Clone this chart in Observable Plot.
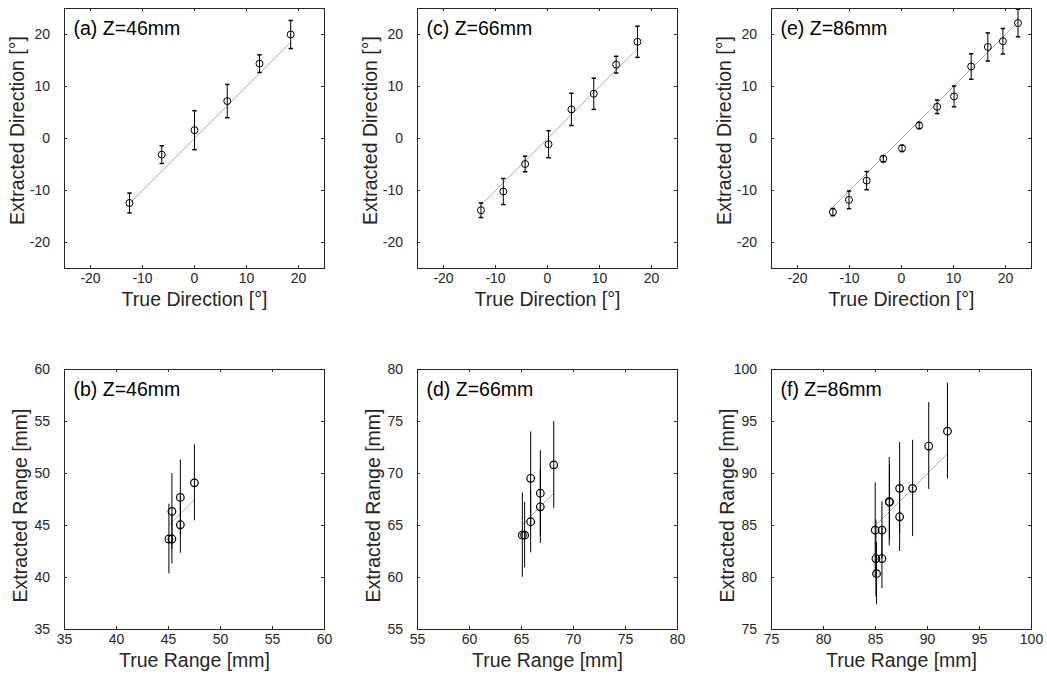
<!DOCTYPE html>
<html><head><meta charset="utf-8">
<script src="https://cdn.jsdelivr.net/npm/d3@7"></script>
<script src="https://cdn.jsdelivr.net/npm/@observablehq/plot@0.6"></script>
<style>
html,body{margin:0;padding:0;background:#fff;overflow:hidden}
#chart{position:relative;width:1047px;height:685px}
#chart svg{position:absolute}
</style></head><body><div id="chart"></div>
<script>
// ---- Data ----
// Direction panels: true direction [deg], extracted direction [deg], error bar half-length
const trueA = [-12.5, -6.3, 0, 6.3, 12.5, 18.5];
const extA  = [-12.4, -3.1, 1.6, 7.2, 14.4, 20.0];
const errA  = [1.9, 1.7, 3.75, 3.2, 1.7, 2.7];

const trueC = [-12.8, -8.5, -4.3, 0.2, 4.6, 8.9, 13.2, 17.3];
const extC  = [-13.8, -10.2, -4.9, -1.1, 5.6, 8.6, 14.2, 18.6];
const errC  = [1.4, 2.5, 1.5, 2.6, 3.1, 3.0, 1.6, 3.0];

const trueE = [-13.2, -10.1, -6.7, -3.5, 0.1, 3.4, 6.85, 10.1, 13.4, 16.6, 19.5, 22.4];
const extE  = [-14.15, -11.8, -8.1, -3.9, -1.9, 2.5, 6.1, 8.1, 13.85, 17.6, 18.7, 22.2];
const errE  = [0.7, 1.7, 1.75, 0.6, 0.6, 0.6, 1.3, 2.0, 2.45, 2.7, 2.45, 2.65];

// Range panels: true range [mm], extracted range [mm], error bar half-length
const trueB = [45.04, 45.33, 45.33, 46.14, 46.14, 47.49];
const extB  = [43.7, 43.7, 46.35, 45.07, 47.7, 49.1];
const errB  = [3.35, 2.4, 3.65, 2.74, 3.6, 3.65];

const trueD = [65.08, 65.3, 65.88, 65.88, 66.81, 66.81, 68.1];
const extD  = [64.07, 64.07, 69.54, 65.36, 68.1, 66.8, 70.83];
const errD  = [4.05, 3.15, 4.46, 3.0, 4.1, 3.54, 4.17];

const trueF = [84.97, 85.62, 85.04, 85.62, 85.1, 86.32, 86.35, 87.32, 87.32, 88.57, 90.12, 91.92];
const extF  = [84.56, 84.56, 81.82, 81.82, 80.37, 87.29, 87.25, 88.57, 85.84, 88.57, 92.64, 94.07];
const errF  = [4.54, 2.73, 3.7, 2.9, 3.0, 4.25, 3.6, 4.41, 3.34, 4.63, 4.17, 4.6];

// Axes
const dirDomain = [-25, 25];
const dirTicks = [-20, -10, 0, 10, 20];
const rangeDomainB = [35, 60], rangeTicksB = [35, 40, 45, 50, 55, 60];
const rangeDomainD = [55, 80], rangeTicksD = [55, 60, 65, 70, 75, 80];
const rangeDomainF = [75, 100], rangeTicksF = [75, 80, 85, 90, 95, 100];

const titles = ["(a) Z=46mm", "(c) Z=66mm", "(e) Z=86mm", "(b) Z=46mm", "(d) Z=66mm", "(f) Z=86mm"];
const xLabelDir = "True Direction [°]", yLabelDir = "Extracted Direction [°]";
const xLabelRange = "True Range [mm]", yLabelRange = "Extracted Range [mm]";

// ---- Layout ----
const S = 260, ML = 64, MT = 8, MR = 12, MB = 50;
const colLeft = [0, 353, 707];
const rowTop = [0, 361];
const FONT = '"Liberation Sans", Arial, Helvetica, sans-serif';
const INK = "#262626";

const capSymbol = {draw(ctx, size) { const r = Math.sqrt(size / Math.PI); ctx.moveTo(-r, 0); ctx.lineTo(r, 0); }};

const panels = [
  {t: trueA, v: extA, e: errA, dom: dirDomain, labels: dirTicks, inner: dirTicks, title: titles[0], xl: xLabelDir, yl: yLabelDir, caps: true, col: 0, row: 0},
  {t: trueC, v: extC, e: errC, dom: dirDomain, labels: dirTicks, inner: dirTicks, title: titles[1], xl: xLabelDir, yl: yLabelDir, caps: true, col: 1, row: 0},
  {t: trueE, v: extE, e: errE, dom: dirDomain, labels: dirTicks, inner: dirTicks, title: titles[2], xl: xLabelDir, yl: yLabelDir, caps: true, col: 2, row: 0},
  {t: trueB, v: extB, e: errB, dom: rangeDomainB, labels: rangeTicksB, inner: rangeTicksB.slice(1, -1), title: titles[3], xl: xLabelRange, yl: yLabelRange, caps: false, col: 0, row: 1},
  {t: trueD, v: extD, e: errD, dom: rangeDomainD, labels: rangeTicksD, inner: rangeTicksD.slice(1, -1), title: titles[4], xl: xLabelRange, yl: yLabelRange, caps: false, col: 1, row: 1},
  {t: trueF, v: extF, e: errF, dom: rangeDomainF, labels: rangeTicksF, inner: rangeTicksF.slice(1, -1), title: titles[5], xl: xLabelRange, yl: yLabelRange, caps: false, col: 2, row: 1}
];

const root = document.getElementById("chart");
for (const p of panels) {
  const data = p.t.map((t, i) => ({x: t, y: p.v[i], e: p.e[i]}));
  const fit = d3.extent(p.t).map(v => ({x: v, y: v}));
  const top = p.row === 0;
  const marks = [
    Plot.tickX(p.inner, {x: d => d, insetBottom: S - 3, stroke: INK}),
    Plot.tickX(p.inner, {x: d => d, insetTop: S - 3, stroke: INK}),
    Plot.tickY(p.inner, {y: d => d, insetRight: S - 3, stroke: INK}),
    Plot.tickY(p.inner, {y: d => d, insetLeft: S - 3, stroke: INK}),
    Plot.axisX({ticks: p.labels, tickSize: 0, tickPadding: 5, fontSize: 14, tickFormat: d => String(d), label: null}),
    Plot.axisY({ticks: p.labels, tickSize: 0, tickPadding: 14.5, fontSize: 14, tickFormat: d => String(d), label: null}),
    Plot.line(fit, {x: "x", y: "y", stroke: "#b3b3b3", strokeWidth: 1}),
    Plot.ruleX(data, {x: "x", y1: d => d.y - d.e, y2: d => d.y + d.e, stroke: "#000", strokeWidth: 1}),
    p.caps ? Plot.dot(data, {x: "x", y: d => d.y + d.e, symbol: capSymbol, r: 2.2, stroke: "#000", fill: "none"}) : null,
    p.caps ? Plot.dot(data, {x: "x", y: d => d.y - d.e, symbol: capSymbol, r: 2.2, stroke: "#000", fill: "none"}) : null,
    Plot.dot(data, {x: "x", y: "y", r: top ? 3.5 : 3.8, stroke: "#000", strokeWidth: top ? 1 : 1.2, fill: "none"}),
    Plot.frame({stroke: INK}),
    Plot.text([p.title], {text: d => d, frameAnchor: "top-left", dx: 9, dy: 12.7, lineAnchor: "top", textAnchor: "start", fontSize: 19.5, fill: "#000"}),
    Plot.text([p.xl], {text: d => d, frameAnchor: "bottom", dy: 37, lineAnchor: "bottom", textAnchor: "middle", fontSize: 19.5, fill: INK}),
    Plot.text([p.yl], {text: d => d, frameAnchor: "left", dx: top ? -41 : -38, dy: top ? -8 : 6, rotate: -90, lineAnchor: "bottom", textAnchor: "middle", fontSize: 19.5, fill: INK})
  ].filter(Boolean);
  const svg = Plot.plot({
    width: ML + S + MR, height: MT + S + MB,
    marginLeft: ML, marginTop: MT, marginRight: MR, marginBottom: MB,
    x: {domain: p.dom, label: null},
    y: {domain: p.dom, label: null},
    style: {fontFamily: FONT, fontSize: "14px", color: INK, background: "transparent", overflow: "visible"},
    marks
  });
  svg.style.left = colLeft[p.col] + "px";
  svg.style.top = rowTop[p.row] + "px";
  root.appendChild(svg);
}
</script>
</body></html>
